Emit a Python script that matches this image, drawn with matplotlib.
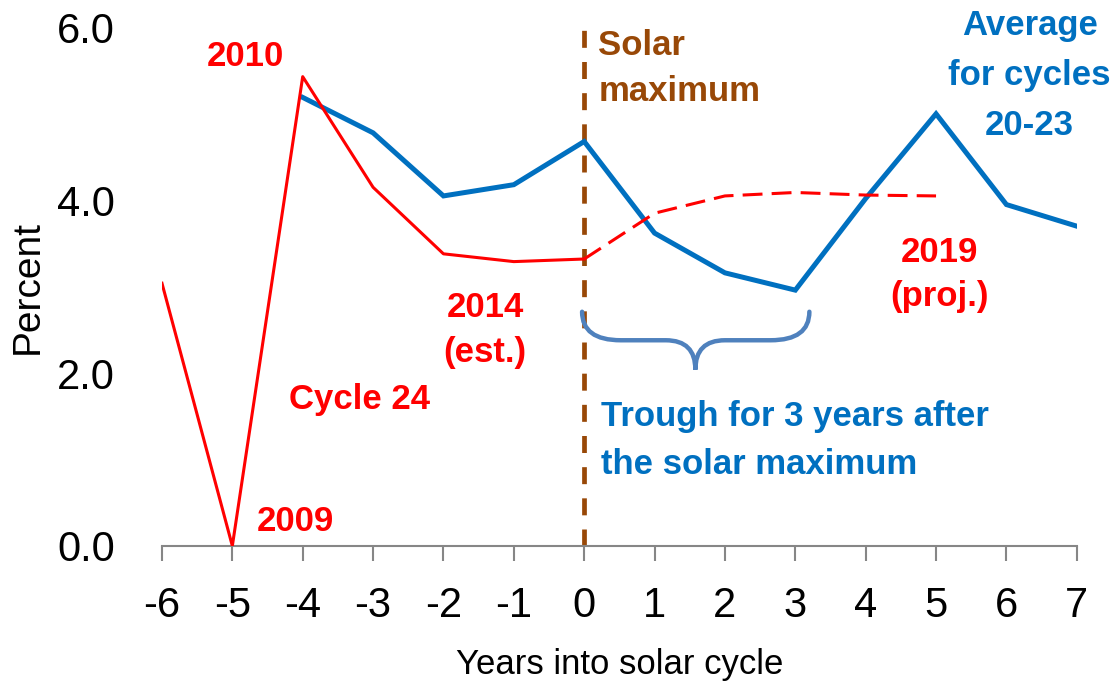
import numpy as np
import matplotlib.pyplot as plt
from matplotlib.path import Path
from matplotlib.patches import PathPatch

plt.rcParams['font.family'] = ['Liberation Sans', 'DejaVu Sans']

# Data
years = [-6, -5, -4, -3, -2, -1, 0, 1, 2, 3, 4, 5, 6, 7]
cycle24_x = [-6, -5, -4, -3, -2, -1, 0]
cycle24_y = [3.04, 0.0, 5.43, 4.15, 3.38, 3.29, 3.32]
proj_x = [0, 1, 2, 3, 4, 5]
proj_y = [3.32, 3.85, 4.05, 4.09, 4.06, 4.05]
avg_x = [-4, -3, -2, -1, 0, 1, 2, 3, 4, 5, 6, 7]
avg_y = [5.19, 4.78, 4.05, 4.18, 4.68, 3.62, 3.16, 2.96, 4.02, 5.0, 3.95, 3.70]
yticks = [0.0, 2.0, 4.0, 6.0]

red = '#FF0000'
blue = '#0070C0'
brown = '#984807'
brace_col = '#4F81BD'

fig = plt.figure(figsize=(11.17, 6.85), dpi=100)
ax = fig.add_axes([0.145, 0.203, 0.819, 0.757])

ax.plot(avg_x, avg_y, color=blue, lw=3.6, solid_joinstyle='miter', zorder=3)
ax.plot(cycle24_x, cycle24_y, color=red, lw=2.2, zorder=4)
ax.plot(proj_x, proj_y, color=red, lw=2.2, dashes=(6.5, 3), zorder=4)
ax.plot([0, 0], [0, 6], color=brown, lw=3.4, dashes=(3.6, 3), zorder=2)

# curly brace under the trough
x0, x1, xm = -0.03, 3.2, 1.58
yt, ym, yp = 2.71, 2.38, 2.04
verts = [(x0, yt), (x0, ym), (x0 + 0.55, ym),
         (xm - 0.42, ym),
         (xm, ym), (xm, yp),
         (xm, ym), (xm + 0.42, ym),
         (x1 - 0.55, ym),
         (x1, ym), (x1, yt)]
codes = [Path.MOVETO, Path.CURVE3, Path.CURVE3,
         Path.LINETO,
         Path.CURVE3, Path.CURVE3,
         Path.CURVE3, Path.CURVE3,
         Path.LINETO,
         Path.CURVE3, Path.CURVE3]
ax.add_patch(PathPatch(Path(verts, codes), fill=False, ec=brace_col, lw=3.2,
                       capstyle='round', zorder=3))

ax.set_xlim(-6, 7)
ax.set_ylim(0, 6)
ax.set_xticks(years)
ax.set_xticklabels([str(v) for v in years])
ax.set_yticks(yticks)
ax.set_yticklabels([f'{v:.1f}' for v in yticks])

for s in ['left', 'top', 'right']:
    ax.spines[s].set_visible(False)
ax.spines['bottom'].set_color('#868686')
ax.spines['bottom'].set_linewidth(1.5)
ax.tick_params(axis='x', direction='out', length=11, width=1.5, color='#868686',
               labelsize=30, pad=18)
ax.tick_params(axis='y', length=0, labelsize=30, pad=34)
ax.set_xlabel('Years into solar cycle', fontsize=25, labelpad=16)
ax.set_ylabel('Percent', fontsize=28, labelpad=8)

bold = dict(fontweight='bold', fontsize=25, ha='center', va='center', linespacing=1.45)
ax.text(-4.81, 5.66, '2010', color=red, **bold)
ax.text(-1.41, 2.5, '2014\n(est.)', color=red, **bold)
ax.text(-3.19, 1.69, 'Cycle 24', color=red, **bold)
ax.text(-4.11, 0.28, '2009', color=red, **bold)
ax.text(5.05, 3.14, '2019\n(proj.)', color=red, **bold)
ax.text(6.33, 5.44, 'Average\nfor cycles\n20-23', color=blue, fontweight='bold',
        fontsize=25, ha='center', va='center', linespacing=1.65)
ax.text(0.2, 5.52, 'Solar\nmaximum', color=brown, fontweight='bold', fontsize=25,
        ha='left', va='center', linespacing=1.5)
ax.text(0.24, 1.22, 'Trough for 3 years after\nthe solar maximum', color=blue,
        fontweight='bold', fontsize=25, ha='left', va='center', linespacing=1.6)

fig.savefig('out.png', dpi=100)
